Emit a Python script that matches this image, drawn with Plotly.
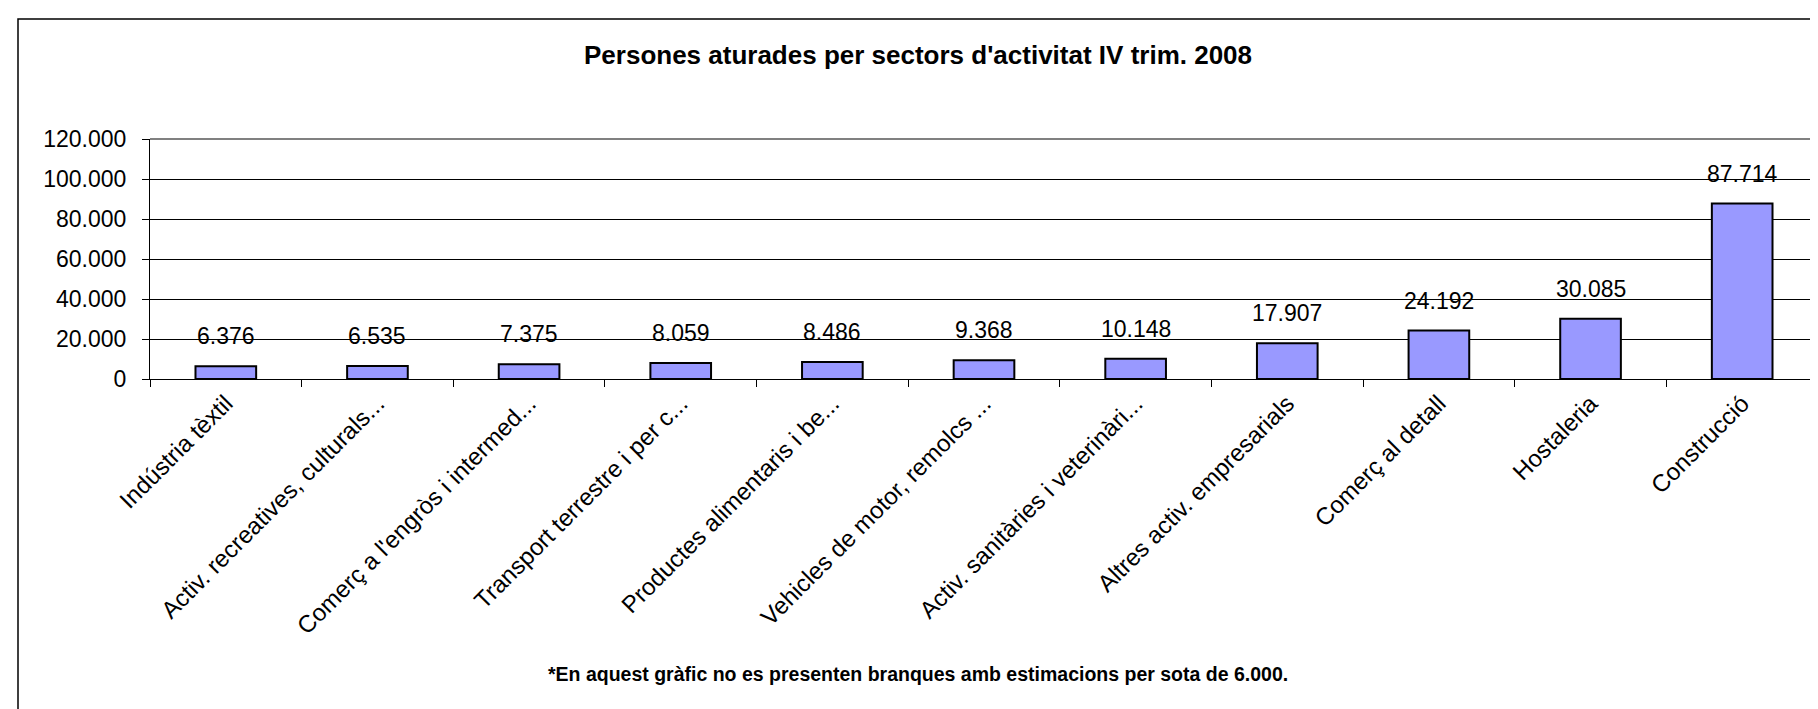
import plotly.graph_objects as go

# Persones aturades per sector, IV trim. 2008
sectors = [
    "Indústria tèxtil",
    "Activ. recreatives, culturals...",
    "Comerç a l'engròs i intermed...",
    "Transport terrestre i per c...",
    "Productes alimentaris i be...",
    "Vehicles de motor, remolcs ...",
    "Activ. sanitàries i veterinàri...",
    "Altres activ. empresarials",
    "Comerç al detall",
    "Hostaleria",
    "Construcció",
]
aturats = [6376, 6535, 7375, 8059, 8486, 9368, 10148, 17907, 24192, 30085, 87714]
y_ticks = [0, 20000, 40000, 60000, 80000, 100000, 120000]

FONT = "Liberation Sans, Arial, sans-serif"
W, H = 1818, 709
L, R, T, B = 142, 1810, 131, 371  # plot area in pixels


def px_x(x):
    return (x - L) / (R - L)


def px_y(y):
    return (B - y) / (B - T)


def fmt(v):
    return f"{v:,}".replace(",", ".")


fig = go.Figure()
fig.add_trace(
    go.Bar(
        x=sectors,
        y=aturats,
        marker=dict(color="#9999FF", line=dict(color="black", width=2)),
        width=0.4,
        hoverinfo="x+y",
    )
)

# value labels above bars
for s, v in zip(sectors, aturats):
    fig.add_annotation(
        x=s, y=v, text=fmt(v), showarrow=False,
        yanchor="middle", yshift=30,
        font=dict(family=FONT, size=23, color="black"),
    )

fig.update_layout(
    width=W,
    height=H,
    margin=dict(l=L, r=W - R, t=T, b=H - B),
    paper_bgcolor="white",
    plot_bgcolor="white",
    showlegend=False,
    font=dict(family=FONT, size=23, color="black"),
    xaxis=dict(
        type="category",
        tickangle=-45,
        showline=True,
        linecolor="black",
        linewidth=1,
        ticks="outside",
        tickson="boundaries",
        ticklen=7,
        tickcolor="black",
        showgrid=False,
        tickfont=dict(family=FONT, size=24, color="black"),
    ),
    yaxis=dict(
        range=[0, 120000],
        tickvals=y_ticks,
        ticktext=[fmt(t) for t in y_ticks],
        showline=True,
        linecolor="black",
        linewidth=1,
        ticks="outside",
        ticklen=7,
        tickcolor="black",
        ticklabelstandoff=11,
        showgrid=True,
        gridcolor="black",
        gridwidth=1,
        zeroline=False,
        tickfont=dict(family=FONT, size=23, color="black"),
    ),
    shapes=[
        # outer chart border
        dict(type="rect", xref="paper", yref="paper",
             x0=px_x(10), x1=px_x(1830), y0=px_y(708), y1=px_y(11),
             line=dict(color="black", width=1.5), layer="below"),
        # grey top and right edges of plot area
        dict(type="line", xref="paper", yref="paper", x0=0, x1=1, y0=1, y1=1,
             line=dict(color="#808080", width=2)),
        dict(type="line", xref="paper", yref="paper", x0=1, x1=1, y0=0, y1=1,
             line=dict(color="#808080", width=2)),
    ],
)

fig.add_annotation(
    xref="paper", yref="paper", x=px_x(910), y=px_y(47),
    text="<b>Persones aturades per sectors d'activitat IV trim. 2008</b>",
    showarrow=False, xanchor="center", yanchor="middle",
    font=dict(family=FONT, size=26, color="black"),
)
fig.add_annotation(
    xref="paper", yref="paper", x=px_x(910), y=px_y(666),
    text="<b>*En aquest gràfic no es presenten branques amb estimacions per sota de 6.000.</b>",
    showarrow=False, xanchor="center", yanchor="middle",
    font=dict(family=FONT, size=19.5, color="black"),
)

fig.write_html("out.html")
